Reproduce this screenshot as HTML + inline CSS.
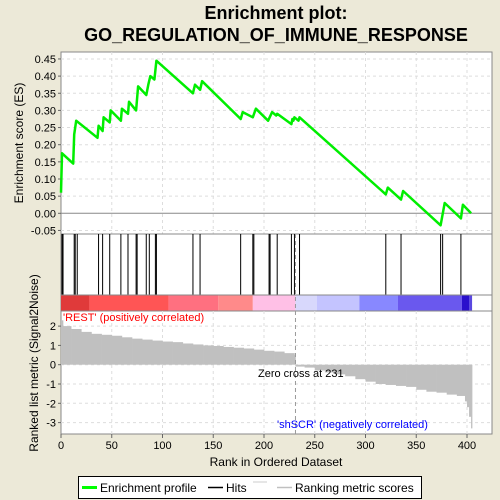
<!DOCTYPE html>
<html><head><meta charset="utf-8"><style>
body{margin:0;background:#ece9d8;}
svg{display:block;font-family:"Liberation Sans",sans-serif;}
</style></head><body>
<svg width="500" height="500" viewBox="0 0 500 500">
<rect width="500" height="500" fill="#ece9d8"/>
<text x="276" y="19" text-anchor="middle" font-size="18" font-weight="bold">Enrichment plot:</text>
<text x="276" y="41" text-anchor="middle" font-size="18" font-weight="bold">GO_REGULATION_OF_IMMUNE_RESPONSE</text>
<g id="gtop"></g>
<g id="ghits"></g>
<g id="gbar"></g>
<g id="gbottom"></g>
<g id="gaxes"></g>
<g>
<rect x="78.5" y="476.5" width="343" height="22" fill="#fff" stroke="#000"/>
<line x1="82" y1="487.5" x2="97" y2="487.5" stroke="#00ff00" stroke-width="3"/>
<text x="100" y="492" font-size="12">Enrichment profile</text>
<line x1="208" y1="487.5" x2="223" y2="487.5" stroke="#000" stroke-width="1.5"/>
<text x="226" y="492" font-size="12">Hits</text>
<line x1="253" y1="482" x2="267" y2="482" stroke="#ccc"/>
<line x1="277" y1="487.5" x2="292" y2="487.5" stroke="#c0c0c0" stroke-width="1.5"/>
<text x="295" y="492" font-size="12">Ranking metric scores</text>
</g>
</svg>
<script>
const esRanks=[0,1,12,13,15,36,37,41,42,48,49,59,60,66,67,74,76,84,86,88,92,94,130,132,137,139,177,179,189,192,204,208,212,213,227,228,229,230,234,235,320,322,335,337,374,378,394,396,404];
const esValues=[0.06,0.175,0.145,0.23,0.27,0.22,0.255,0.24,0.28,0.265,0.30,0.27,0.305,0.29,0.325,0.30,0.37,0.345,0.375,0.40,0.39,0.445,0.35,0.375,0.36,0.385,0.275,0.295,0.28,0.305,0.27,0.295,0.285,0.29,0.26,0.275,0.27,0.28,0.27,0.28,0.055,0.075,0.04,0.065,-0.035,0.03,-0.015,0.025,0.0];
const hitRanks=[1,2,13,14,16,37,41,48,59,66,74,75,84,87,93,94,130,137,177,189,190,205,206,213,227,230,235,320,335,374,376,394];
const metricRanks=[0,2,10,20,30,40,50,60,70,80,90,100,110,120,130,140,150,160,170,180,190,200,210,220,230,231,240,250,260,270,280,290,300,310,320,330,340,350,360,370,380,390,398,400,402,404];
const metricValues=[2.3,2.0,1.85,1.7,1.6,1.55,1.5,1.42,1.35,1.3,1.25,1.2,1.17,1.1,1.05,1.0,0.97,0.92,0.88,0.84,0.78,0.72,0.68,0.6,0.5,-0.1,-0.15,-0.3,-0.4,-0.5,-0.6,-0.75,-0.88,-1.0,-1.05,-1.1,-1.15,-1.3,-1.4,-1.45,-1.55,-1.62,-1.9,-2.2,-2.7,-3.3];
const esTicks=[0.45,0.40,0.35,0.30,0.25,0.20,0.15,0.10,0.05,0.00,-0.05];
const esTickLabels=["0.45","0.40","0.35","0.30","0.25","0.20","0.15","0.10","0.05","0.00","-0.05"];
const metricTicks=[2,1,0,-1,-2,-3];
const xTicks=[0,50,100,150,200,250,300,350,400];
const colorStops=[0,28,106,155,189,231,252,294,332,395,402,405];
const colorFills=["#e03a3a","#ff5555","#ff7080","#ff8a8a","#ffc0e6","#d8d8fc","#c4c4ff","#8888ff","#6a58ee","#2a10cc","#5a48e0"];
const NS="http://www.w3.org/2000/svg";
const X0=61,X1=492;
const x=r=>61+r*1.015;
const yES=v=>213.3-v*343;
const yM=v=>364.7-v*19.3;
function mk(tag,at,parent){const e=document.createElementNS(NS,tag);for(const k in at)e.setAttribute(k,at[k]);parent.appendChild(e);return e;}
const gTop=document.getElementById('gtop'),gHits=document.getElementById('ghits'),gBar=document.getElementById('gbar'),gBottom=document.getElementById('gbottom'),gAxes=document.getElementById('gaxes');
let p=mk('rect',{x:X0,y:52,width:X1-X0,height:182,fill:'#fff',stroke:'#888'},gTop);


p=mk('rect',{x:X0,y:234,width:X1-X0,height:61,fill:'#fff',stroke:'#888'},gHits);


p=mk('rect',{x:X0,y:295,width:X1-X0,height:16,fill:'#fff',stroke:'#888'},gBar);


p=mk('rect',{x:X0,y:311,width:X1-X0,height:123,fill:'#fff',stroke:'#888'},gBottom);


xTicks.forEach(t=>{if(t===0)return;
 let g=mk('line',{x1:x(t),x2:x(t),y1:52,y2:234,stroke:'#ddd','stroke-dasharray':'3,3'},gTop);
 
 
 g=mk('line',{x1:x(t),x2:x(t),y1:311,y2:434,stroke:'#ddd','stroke-dasharray':'3,3'},gBottom);
 
 
});
esTicks.forEach((t,i)=>{
 const g=mk('line',{x1:X0,x2:X1,y1:yES(t),y2:yES(t),stroke:t===0?'#888':'#ddd','stroke-dasharray':t===0?'':'3,3'},gTop);
 
 
 mk('line',{x1:X0-3,x2:X0,y1:yES(t),y2:yES(t),stroke:'#666'},gAxes);
 const tx=mk('text',{x:X0-5,y:yES(t)+4,'text-anchor':'end','font-size':11},gAxes);
 tx.textContent=esTickLabels[i];
 
 
});
metricTicks.forEach(t=>{
 const g=mk('line',{x1:X0,x2:X1,y1:yM(t),y2:yM(t),stroke:'#ddd','stroke-dasharray':'3,3'},gBottom);
 
 
 mk('line',{x1:X0-3,x2:X0,y1:yM(t),y2:yM(t),stroke:'#666'},gAxes);
 const tx=mk('text',{x:X0-5,y:yM(t)+4,'text-anchor':'end','font-size':11},gAxes);
 tx.textContent=String(t);
 
 
});
xTicks.forEach(t=>{
 mk('line',{x1:x(t),x2:x(t),y1:434,y2:438,stroke:'#666'},gAxes);
 const tx=mk('text',{x:x(t),y:449,'text-anchor':'middle','font-size':11},gAxes);
 tx.textContent=String(t);
 
 
});
metricRanks.forEach((r,i)=>{const v=metricValues[i];const nr=i<metricRanks.length-1?metricRanks[i+1]:r+1;const w=x(nr)-x(r);
 const b=mk('rect',{x:x(r),y:Math.min(yM(v),yM(0)),width:w+0.3,height:Math.abs(yM(v)-yM(0)),fill:'#c0c0c0'},gBottom);
 
 });
let d='';esRanks.forEach((r,i)=>{d+=(i?'L':'M')+x(r).toFixed(1)+','+yES(esValues[i]).toFixed(1);});
let es=mk('path',{d:d,fill:'none',stroke:'#00ee00','stroke-width':2.5,'stroke-linejoin':'round'},gTop);


hitRanks.forEach(r=>{const h=mk('line',{x1:x(r),x2:x(r),y1:234,y2:295,stroke:'#000','stroke-width':1},gHits);
 
 });
colorFills.forEach((c,i)=>{const b=mk('rect',{x:x(colorStops[i]),y:295.5,width:x(colorStops[i+1])-x(colorStops[i]),height:15,fill:c},gBar);
 
 });
let z=mk('line',{x1:x(231),x2:x(231),y1:234,y2:434,stroke:'#999','stroke-dasharray':'4,3'},gAxes);


function label(t,at,name,fill){const e=mk('text',at,gAxes);e.textContent=t;if(fill)e.setAttribute('fill',fill);return e;}
label("'REST' (positively correlated)",{x:63,y:321,'font-size':11},'positive-label','#ff0000');
label("Zero cross at 231",{x:258,y:377,'font-size':11},'zero-cross-label');
label("'shSCR' (negatively correlated)",{x:277,y:428,'font-size':11},'negative-label','#0000ff');
label("Rank in Ordered Dataset",{x:276,y:466,'text-anchor':'middle','font-size':12},'x-axis-title');
label("Enrichment score (ES)",{x:0,y:0,'text-anchor':'middle','font-size':12,transform:'translate(23,143) rotate(-90)'},'es-axis-title');
label("Ranked list metric (Signal2Noise)",{x:0,y:0,'text-anchor':'middle','font-size':12,transform:'translate(38,363) rotate(-90)'},'metric-axis-title');
</script>
</body></html>
